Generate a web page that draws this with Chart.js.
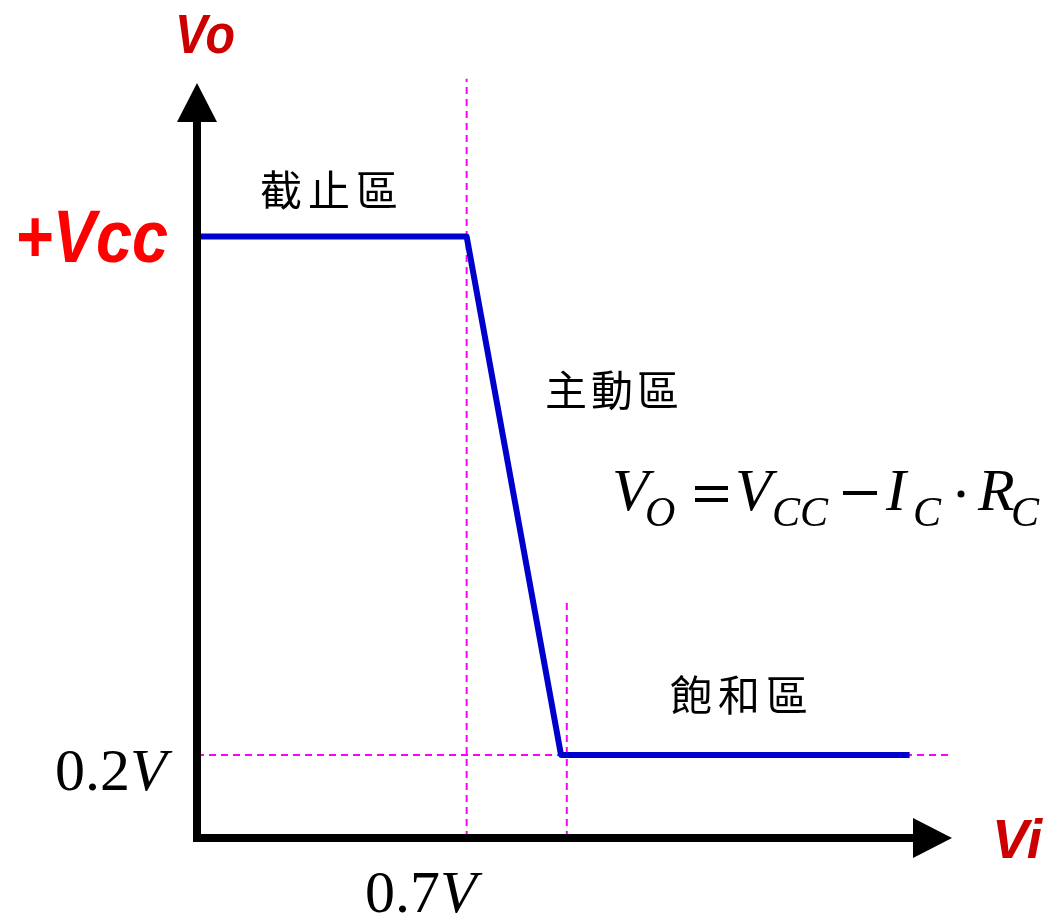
<!DOCTYPE html>
<html>
<head>
<meta charset="utf-8">
<script src="https://cdn.jsdelivr.net/npm/chart.js@4.4.0/dist/chart.umd.min.js"></script>
<style>
  html, body { margin: 0; padding: 0; background: #fff; }
  canvas { display: block; }
</style>
</head>
<body>
<canvas id="chart" width="1049" height="920"></canvas>
<script>
// transfer curve of the transistor switch (Vi -> Vo)
const transferVi = [0, 0.7, 0.945, 1.85];
const transferVo = [1.45, 1.45, 0.2, 0.2];

// dashed guide lines
const guideCutVi = [0.7, 0.7];
const guideCutVo = [0, 1.83];
const guideSatVi = [0.96, 0.96];
const guideSatVo = [0, 0.57];
const guideLowVi = [0, 1.96];
const guideLowVo = [0.2, 0.2];

const xMax = 1.96;
const yMax = 1.82;

const regionLabels = ["截止區", "主動區", "飽和區"];

function toPoints(xs, ys) {
  return xs.map((x, i) => ({ x, y: ys[i] }));
}

function dashed(xs, ys) {
  return {
    data: toPoints(xs, ys),
    showLine: true,
    borderColor: "#FF00FF",
    borderWidth: 2,
    borderDash: [7, 5],
    pointRadius: 0,
    clip: false,
    order: 1
  };
}

// draws text squeezed to a given width if it comes out wider
function fitText(ctx, text, x, y, width, font, color) {
  ctx.save();
  ctx.font = font;
  ctx.fillStyle = color;
  ctx.textAlign = "left";
  ctx.textBaseline = "alphabetic";
  const w = ctx.measureText(text).width;
  const s = w > width ? width / w : 1;
  ctx.translate(x, y);
  ctx.scale(s, 1);
  ctx.fillText(text, 0, 0);
  ctx.restore();
}

function spacedText(ctx, text, x, y, size, gap) {
  ctx.save();
  ctx.font = size + 'px "Noto Sans CJK TC"';
  ctx.fillStyle = "#000";
  ctx.textAlign = "left";
  ctx.textBaseline = "middle";
  let cx = x;
  for (const ch of text) {
    ctx.fillText(ch, cx, y);
    cx += size + gap;
  }
  ctx.restore();
}

const axesPlugin = {
  id: "axes_with_arrows",
  afterDatasetsDraw: (chart) => {
    const { ctx } = chart;
    const xs = chart.scales.x;
    const ys = chart.scales.y;
    const x0 = xs.getPixelForValue(0);
    const y0 = ys.getPixelForValue(0);
    const xEnd = xs.getPixelForValue(xMax);
    const yEnd = ys.getPixelForValue(yMax);
    const head = 39, half = 20;

    ctx.save();
    ctx.strokeStyle = "#000";
    ctx.fillStyle = "#000";
    ctx.lineWidth = 8;
    ctx.lineCap = "butt";
    ctx.beginPath();
    ctx.moveTo(x0, y0 + 4);
    ctx.lineTo(x0, yEnd + head);
    ctx.moveTo(x0 - 4, y0);
    ctx.lineTo(xEnd - head, y0);
    ctx.stroke();

    ctx.beginPath();
    ctx.moveTo(x0, yEnd);
    ctx.lineTo(x0 - half, yEnd + head);
    ctx.lineTo(x0 + half, yEnd + head);
    ctx.closePath();
    ctx.fill();

    ctx.beginPath();
    ctx.moveTo(xEnd, y0);
    ctx.lineTo(xEnd - head, y0 - half);
    ctx.lineTo(xEnd - head, y0 + half);
    ctx.closePath();
    ctx.fill();
    ctx.restore();
  }
};

const labelPlugin = {
  id: "labels",
  afterDraw: (chart) => {
    const { ctx } = chart;
    const bold = (px) => 'italic bold ' + px + 'px "Liberation Sans"';
    const serif = (px) => px + 'px "Liberation Serif"';
    const iserif = (px) => 'italic ' + px + 'px "Liberation Serif"';

    // axis names
    fitText(ctx, "Vo", 175, 53, 60, bold(55), "#CC0000");
    fitText(ctx, "Vi", 992, 858, 52, bold(55), "#CC0000");
    fitText(ctx, "+Vcc", 15, 262, 153, bold(74), "#FF0000");

    // tick values
    ctx.save();
    ctx.fillStyle = "#000";
    ctx.textBaseline = "alphabetic";
    ctx.font = serif(60);
    ctx.fillText("0.2", 55, 790);
    let w = ctx.measureText("0.2").width;
    ctx.font = iserif(60);
    ctx.fillText("V", 55 + w, 790);

    ctx.font = serif(60);
    ctx.fillText("0.7", 365, 912);
    w = ctx.measureText("0.7").width;
    ctx.font = iserif(60);
    ctx.fillText("V", 365 + w, 912);

    // formula Vo = Vcc - Ic * Rc
    ctx.font = iserif(60);
    ctx.fillText("V", 612, 510);
    ctx.fillText("V", 735, 510);
    ctx.fillText("I", 886, 510);
    ctx.fillText("R", 978, 510);
    ctx.font = iserif(42);
    ctx.fillText("O", 645, 526);
    ctx.fillText("CC", 772, 526);
    ctx.fillText("C", 913, 526);
    ctx.fillText("C", 1011, 526);
    ctx.fillRect(695, 486, 33, 4);
    ctx.fillRect(695, 498, 33, 4);
    ctx.fillRect(843, 491, 34, 4);
    ctx.beginPath();
    ctx.arc(961, 494, 3.5, 0, Math.PI * 2);
    ctx.fill();
    ctx.restore();

    // region names
    spacedText(ctx, regionLabels[0], 260, 190, 42, 6);
    spacedText(ctx, regionLabels[1], 545, 390, 42, 4);
    spacedText(ctx, regionLabels[2], 670, 695, 42, 6);
  }
};

new Chart(document.getElementById("chart"), {
  type: "scatter",
  plugins: [axesPlugin, labelPlugin],
  data: {
    datasets: [
      {
        data: toPoints(transferVi, transferVo),
        showLine: true,
        borderColor: "#0000CC",
        borderWidth: 6,
        borderJoinStyle: "round",
        pointRadius: 0,
        clip: false,
        order: 0
      },
      dashed(guideCutVi, guideCutVo),
      dashed(guideSatVi, guideSatVo),
      dashed(guideLowVi, guideLowVo)
    ]
  },
  options: {
    responsive: false,
    animation: false,
    layout: { padding: { left: 197, right: 97, top: 83, bottom: 82 } },
    plugins: {
      legend: { display: false },
      tooltip: { enabled: false }
    },
    scales: {
      x: { type: "linear", min: 0, max: xMax, display: false },
      y: { type: "linear", min: 0, max: yMax, display: false }
    }
  }
});
</script>
</body>
</html>
